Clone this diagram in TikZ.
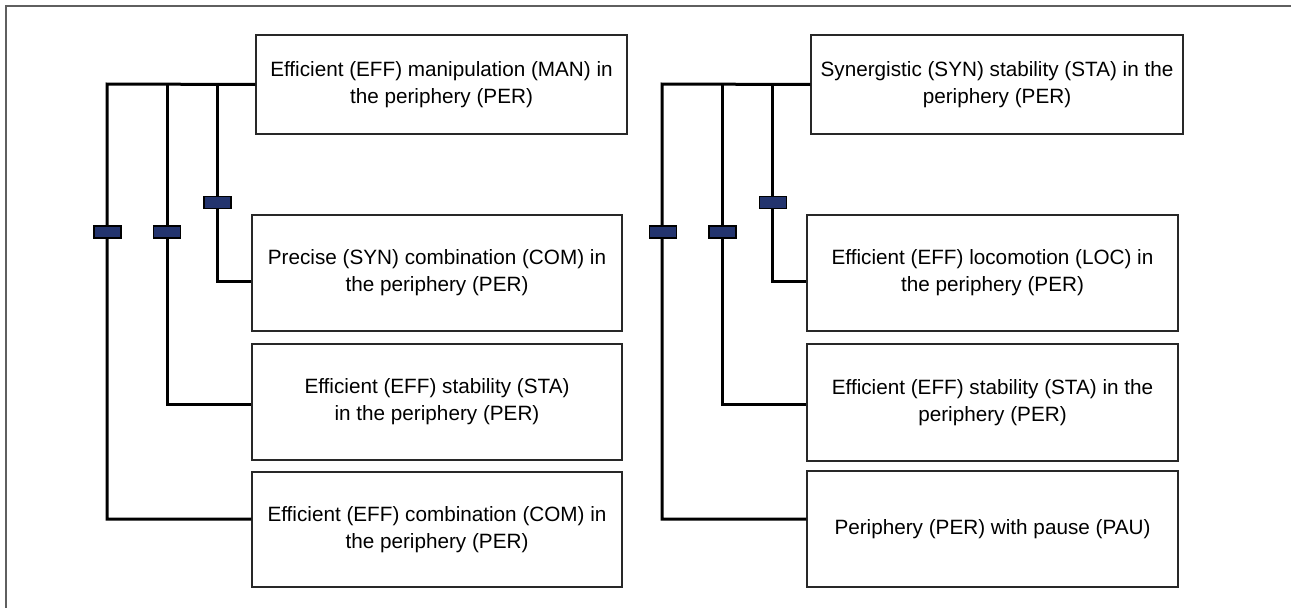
\documentclass[tikz,border=0pt]{standalone}
\usepackage{fontspec}
\setmainfont{Liberation Sans}
\definecolor{barnavy}{RGB}{35,52,110}
\definecolor{boxline}{RGB}{40,40,40}
\definecolor{framegray}{RGB}{95,95,95}
\begin{document}
\begin{tikzpicture}[x=1pt,y=-1pt,
  box/.style={draw=boxline, line width=1.3pt, fill=white, align=center, inner sep=0pt,
    font=\fontsize{20.7}{27}\selectfont},
  conn/.style={draw=black, line width=3pt},
  bar/.style={draw=black, fill=barnavy, line width=1.9pt, minimum width=27pt, minimum height=12pt, inner sep=0pt}]
\useasboundingbox (0,0) rectangle (1291,608);
\draw[framegray, line width=1.4pt] (6,620) -- (6,6) -- (1300,6);
% left group boxes
\node[box, minimum width=371pt, minimum height=99pt] (L1) at (441.5,84.5) {Efficient (EFF) manipulation (MAN) in\\the periphery (PER)};
\node[box, minimum width=370pt, minimum height=116pt] (L2) at (437,273) {Precise (SYN) combination (COM) in\\the periphery (PER)};
\node[box, minimum width=370pt, minimum height=116pt] (L3) at (437,402) {Efficient (EFF) stability (STA)\\in the periphery (PER)};
\node[box, minimum width=370pt, minimum height=115pt] (L4) at (437,529.5) {Efficient (EFF) combination (COM) in\\the periphery (PER)};
% right group boxes
\node[box, minimum width=372pt, minimum height=99pt] (R1) at (997,84.5) {Synergistic (SYN) stability (STA) in the\\periphery (PER)};
\node[box, minimum width=371pt, minimum height=116pt] (R2) at (992.5,273) {Efficient (EFF) locomotion (LOC) in\\the periphery (PER)};
\node[box, minimum width=371pt, minimum height=117pt] (R3) at (992.5,402.5) {Efficient (EFF) stability (STA) in the\\periphery (PER)};
\node[box, minimum width=371pt, minimum height=116pt] (R4) at (992.5,529) {Periphery (PER) with pause (PAU)};
% junctions
\coordinate (j1) at (107,84);
\coordinate (j2) at (167,84);
\coordinate (j3) at (217,84);
\coordinate (k1) at (662,84);
\coordinate (k2) at (722,84);
\coordinate (k3) at (772,84);
% left connectors
\draw[conn] (L1.west) -- (j1) |- ([yshift=10.5pt]L4.west);
\draw[conn] (j2) |- ([yshift=-2pt]L3.west);
\draw[conn] (j3) |- ([yshift=-8pt]L2.west);
% right connectors
\draw[conn] (R1.west) -- (k1) |- ([yshift=10pt]R4.west);
\draw[conn] (k2) |- ([yshift=-1.5pt]R3.west);
\draw[conn] (k3) |- ([yshift=-8pt]R2.west);
% bars
\node[bar] (b1) at (107.5,232) {};
\node[bar] (b2) at (167,232) {};
\node[bar] (b3) at (217.5,202.5) {};
\node[bar] (c1) at (663,232) {};
\node[bar] (c2) at (722.5,232) {};
\node[bar] (c3) at (773,202.5) {};
\end{tikzpicture}
\end{document}
